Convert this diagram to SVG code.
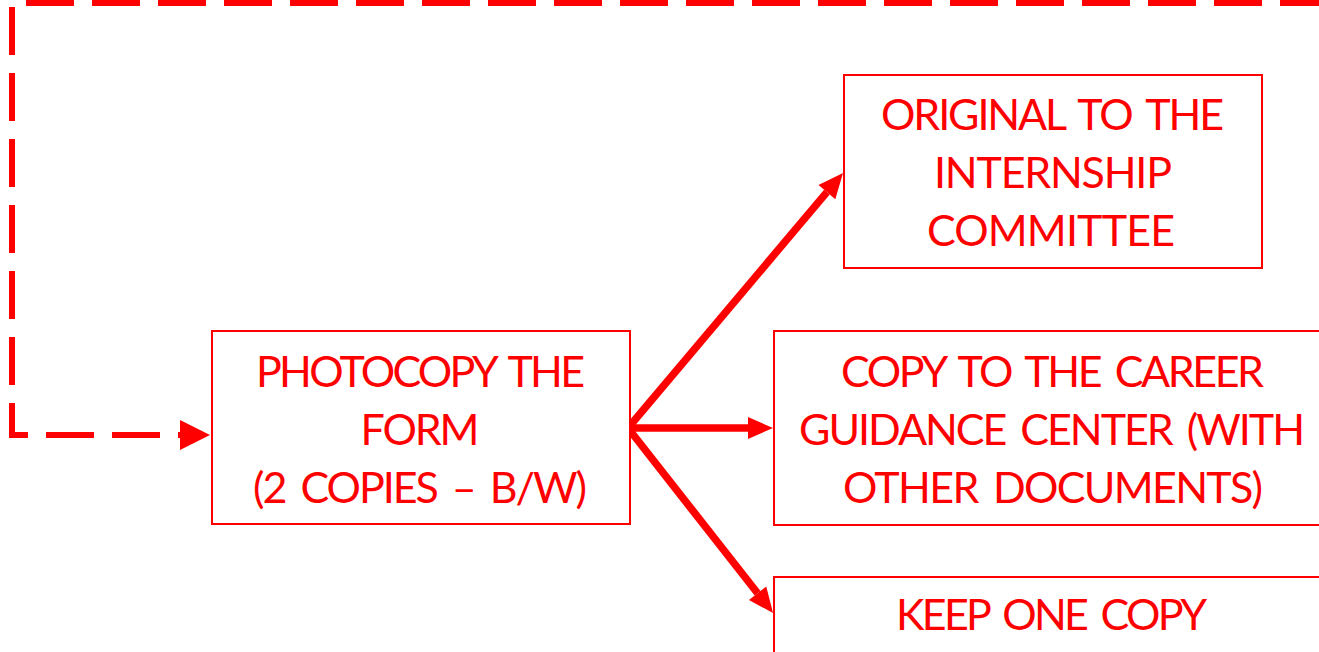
<svg xmlns="http://www.w3.org/2000/svg" width="1319" height="652" viewBox="0 0 1319 652">
  <style>
    .box { fill: #FFFFFF; stroke: #FF0000; stroke-width: 2; }
    .lbl { font-family: Lato, "Liberation Sans", sans-serif; font-size: 43px; fill: #FF0000; text-anchor: middle; word-spacing: 6px; }
    .arrow { stroke: #FF0000; stroke-width: 7.5; fill: none; stroke-linecap: butt; }
    .dash { stroke: #FF0000; stroke-width: 6; fill: none; stroke-dasharray: 48 18; stroke-dashoffset: 54; stroke-linejoin: miter; }
  </style>
  <defs>
    <marker id="head" markerUnits="userSpaceOnUse" markerWidth="26" markerHeight="22" refX="0" refY="11" orient="auto" overflow="visible">
      <path d="M0,0 L25,11 L0,22 Z" fill="#FF0000"/>
    </marker>
  </defs>
  <rect width="1319" height="652" fill="#FFFFFF"/>

  <g id="connectors">
    <path class="dash" d="M1340,3 H12 V435 H182"/>
    <polygon points="180,420 210,435 180,450" fill="#FF0000"/>
    <line class="arrow" x1="628" y1="428" x2="826.9" y2="192.1" marker-end="url(#head)"/>
    <line class="arrow" x1="628" y1="428" x2="748" y2="428" marker-end="url(#head)"/>
    <line class="arrow" x1="628" y1="428" x2="757.6" y2="593.3" marker-end="url(#head)"/>
  </g>

  <g id="node-photocopy">
    <rect class="box" x="212" y="331" width="418" height="193"/>
    <text class="lbl" x="420.5" y="387" textLength="329">PHOTOCOPY THE</text>
    <text class="lbl" x="420" y="445" textLength="119">FORM</text>
    <text class="lbl" x="420" y="503" textLength="334">(2 COPIES – B/W)</text>
  </g>

  <g id="node-original">
    <rect class="box" x="844" y="75" width="418" height="193"/>
    <text class="lbl" x="1052.5" y="130" textLength="343">ORIGINAL TO THE</text>
    <text class="lbl" x="1053" y="188" textLength="238">INTERNSHIP</text>
    <text class="lbl" x="1051" y="246" textLength="248">COMMITTEE</text>
  </g>

  <g id="node-career">
    <rect class="box" x="774" y="331" width="556" height="194"/>
    <text class="lbl" x="1052.5" y="387" textLength="423">COPY TO THE CAREER</text>
    <text class="lbl" x="1052" y="445" textLength="506">GUIDANCE CENTER (WITH</text>
    <text class="lbl" x="1053" y="503" textLength="420">OTHER DOCUMENTS)</text>
  </g>

  <g id="node-keep">
    <rect class="box" x="774" y="577" width="556" height="100"/>
    <text class="lbl" x="1051.5" y="630" textLength="311">KEEP ONE COPY</text>
  </g>
</svg>
